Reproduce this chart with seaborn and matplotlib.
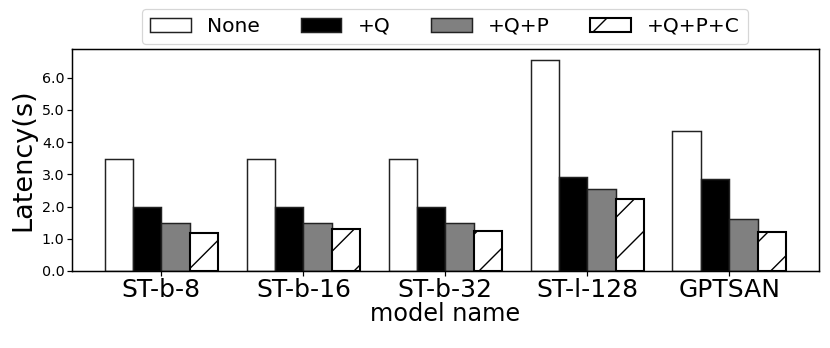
import matplotlib
matplotlib.use("Agg")
import matplotlib.pyplot as plt
import seaborn as sns
import pandas as pd

models = ["ST-b-8", "ST-b-16", "ST-b-32", "ST-l-128", "GPTSAN"]
methods = ["None", "+Q", "+Q+P", "+Q+P+C"]
none_vals = [3.47, 3.47, 3.47, 6.56, 4.35]
q_vals = [1.97, 1.97, 1.97, 2.92, 2.85]
qp_vals = [1.48, 1.50, 1.50, 2.53, 1.61]
qpc_vals = [1.19, 1.31, 1.24, 2.22, 1.20]
yticks = [0.0, 1.0, 2.0, 3.0, 4.0, 5.0, 6.0]

series = [none_vals, q_vals, qp_vals, qpc_vals]
rows = []
for m, vals in zip(methods, series):
    for mod, v in zip(models, vals):
        rows.append({"model": mod, "method": m, "latency": v})
df = pd.DataFrame(rows)

DPI = 125
plt.rcParams["hatch.linewidth"] = 0.8
plt.rcParams["font.family"] = ["DejaVu Sans"]

fig = plt.figure(figsize=(830 / DPI, 348 / DPI), dpi=DPI)
ax = fig.add_axes([0.0864, 0.2213, 0.9003, 0.6379])

palette = {"None": "white", "+Q": "black", "+Q+P": "#808080", "+Q+P+C": "white"}
sns.barplot(data=df, x="model", y="latency", hue="method", order=models,
            hue_order=methods, palette=palette, saturation=1, width=0.8,
            edgecolor="#222222", linewidth=0.85, ax=ax, legend=False, errorbar=None)

hatched = ax.containers[3]
for bar in hatched:
    bar.set_hatch("/")
    bar.set_edgecolor("black")
    bar.set_linewidth(1.2)

for sp in ax.spines.values():
    sp.set_linewidth(0.85)
    sp.set_visible(True)

ax.set_xlim(-0.632, 4.632)
ax.set_yticks(yticks)
ax.set_yticklabels([f"{t:.1f}" for t in yticks])
ax.tick_params(axis="y", labelsize=8.2, length=2.6, width=0.7, pad=1.5)
ax.tick_params(axis="x", labelsize=14.4, length=2.6, width=0.7, pad=1.5)
ax.set_ylabel("Latency(s)", fontsize=15.6, labelpad=3)
ax.set_xlabel("model name", fontsize=13.8, labelpad=0)

handles = [c.patches[0] for c in ax.containers]
leg = ax.legend(handles, methods, loc="lower center", bbox_to_anchor=(0.5, 1.0225),
                ncol=4, fontsize=11.7, frameon=True, borderaxespad=0)
leg.get_frame().set_linewidth(0.7)

fig.savefig("out.png", dpi=DPI)
